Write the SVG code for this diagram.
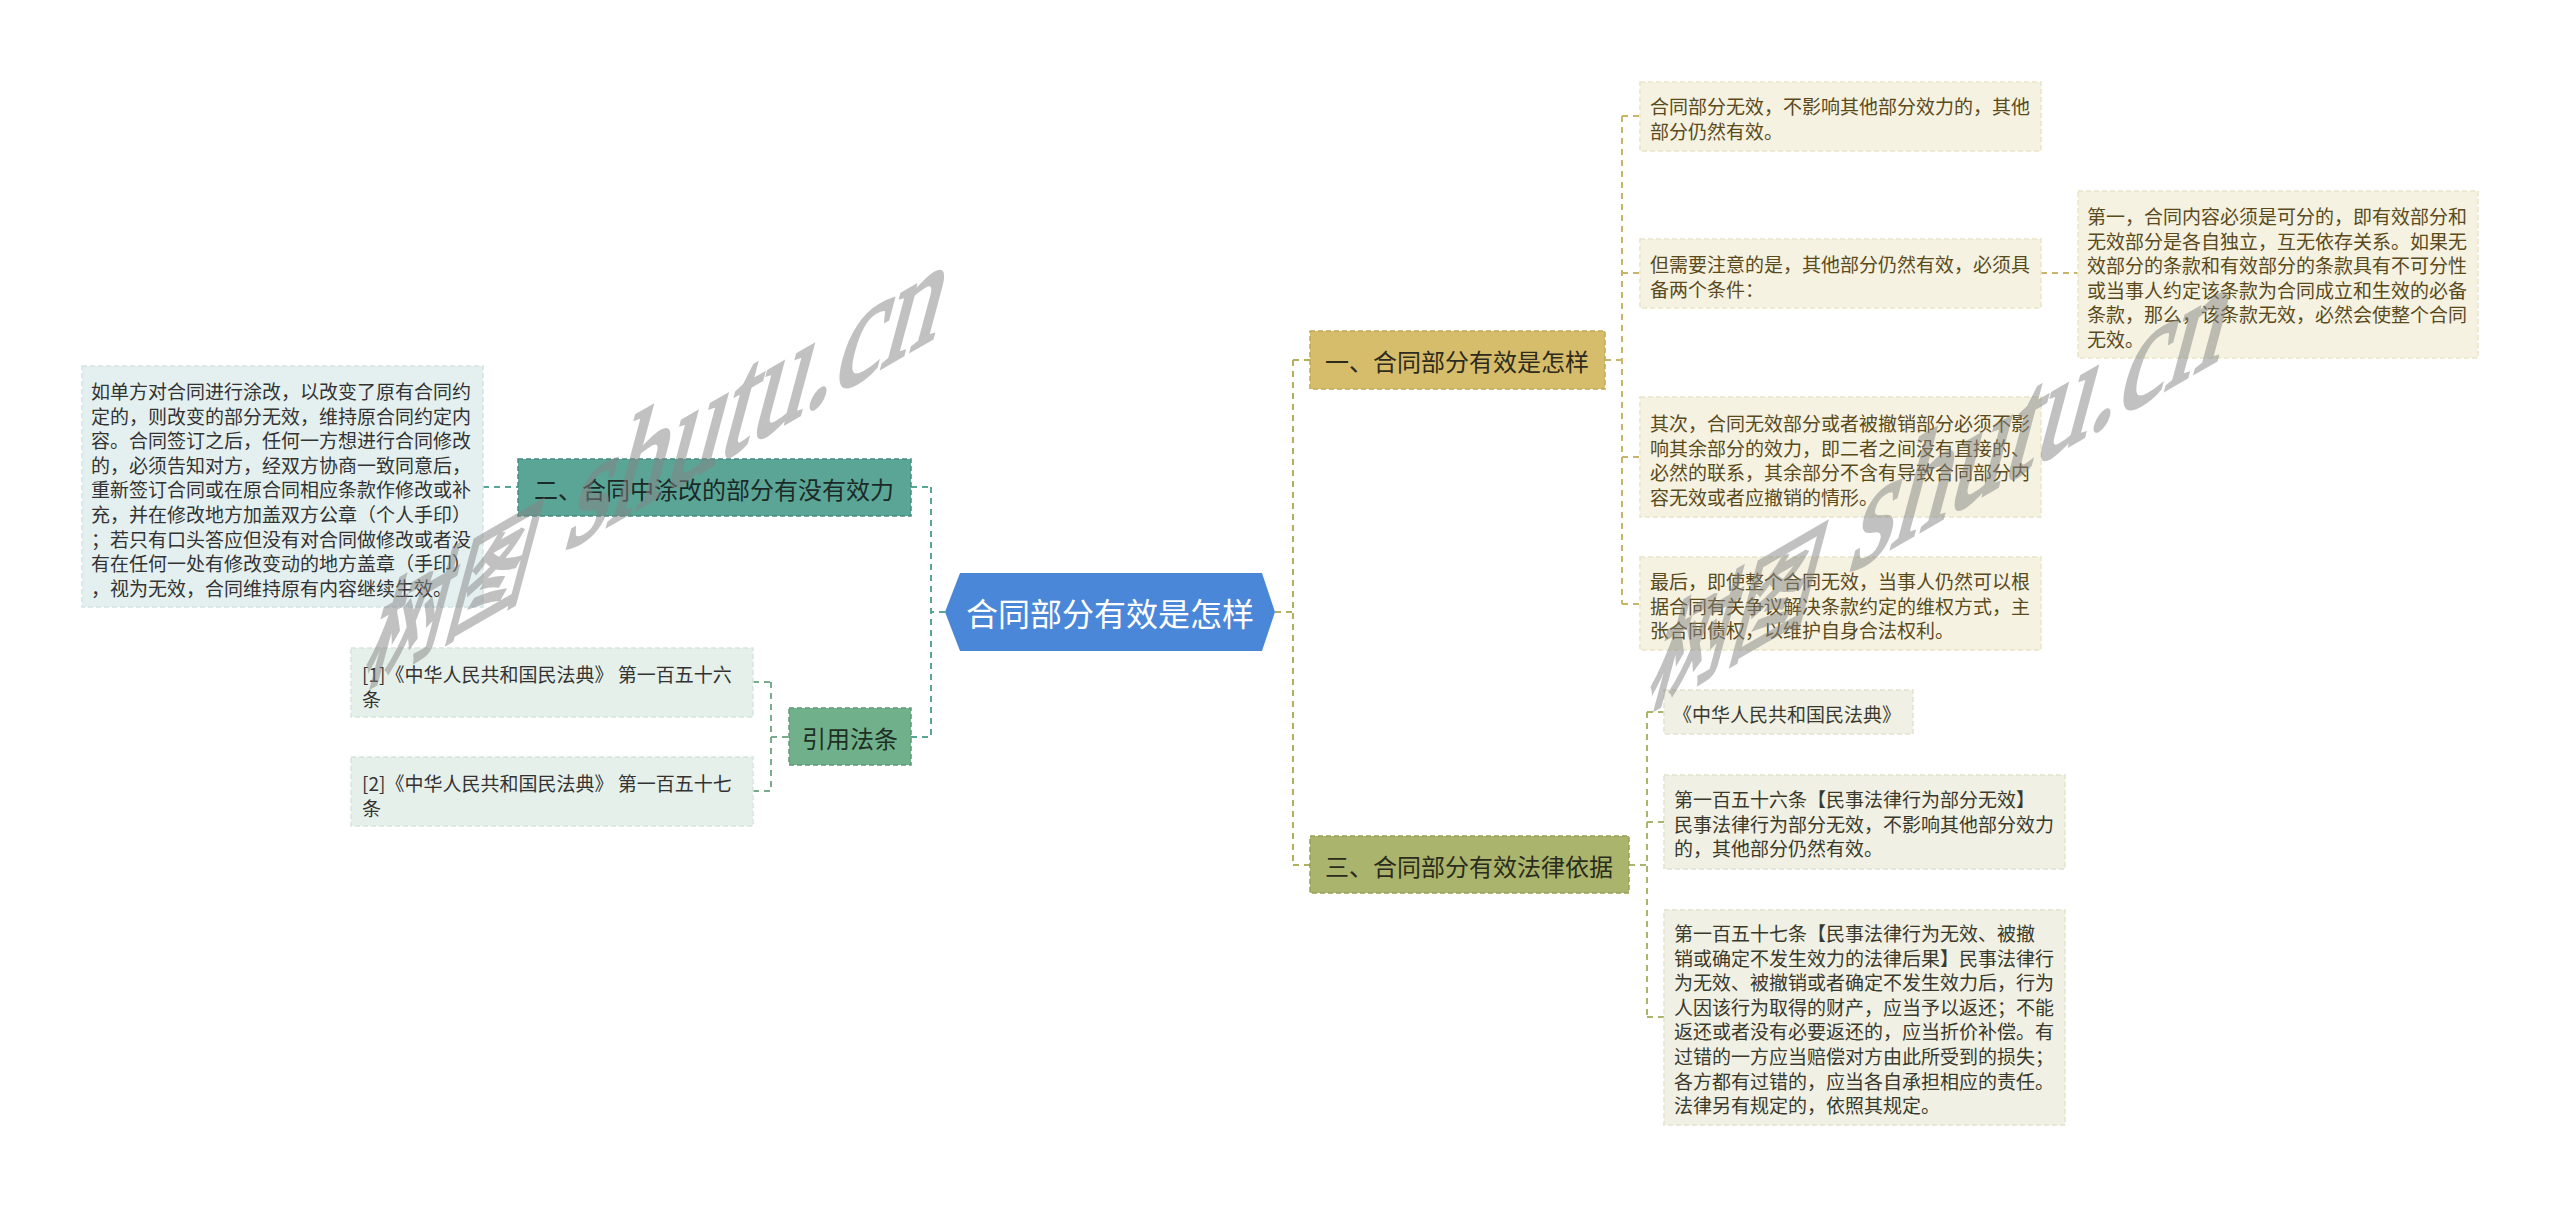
<svg xmlns="http://www.w3.org/2000/svg" width="2560" height="1206" viewBox="0 0 2560 1206">
<style>
text{font-family:"Noto Sans CJK SC","Liberation Sans",sans-serif;}
.t19{font-size:19px;}
.t24{font-size:24px;}
.mid{text-anchor:middle;dominant-baseline:central;}
.ln{dominant-baseline:central;}
.c{fill:none;stroke-width:2;stroke-dasharray:6 5;}
.teal{stroke:#5ba597;}
.cite{stroke:#7aab8c;}
.gold{stroke:#c9b46c;}
.olive{stroke:#abb46c;}
.root{stroke:#b3ae62;}
.bx{stroke-width:1.5;stroke-dasharray:5 3;}
.wm{font-family:"Liberation Serif","Noto Sans CJK SC",serif;font-size:128px;fill:#858585;stroke:#858585;stroke-width:3;opacity:0.5;}
.wmc{font-family:"Noto Sans CJK SC",serif;font-size:95px;}
</style>
<rect width="2560" height="1206" fill="#ffffff"/>
<g id="connectors">
  <path class="c teal" d="M945,612 H931 M931,487 V738 M911,487 H931 M911,737 H931 M483,487 H518"/>
  <path class="c cite" d="M771,682 V791 M753,682 H771 M753,791 H771 M771,737 H789"/>
  <path class="c root" d="M1275,612 H1293 M1293,360 V865 M1293,360 H1310 M1293,865 H1310"/>
  <path class="c gold" d="M1605,360 H1622 M1622,116 V604 M1622,116 H1640 M1622,273 H1640 M1622,457 H1640 M1622,604 H1640 M2041,273 H2078"/>
  <path class="c olive" d="M1629,865 H1647 M1647,712 V1017 M1647,712 H1664 M1647,822 H1664 M1647,1017 H1664"/>
</g>
<g id="root">
  <polygon points="945,612 960,573 1262,573 1275,612 1262,651 960,651" fill="#4b87d8"/>
  <text class="mid" x="1110" y="612" font-size="32" fill="#ffffff">合同部分有效是怎样</text>
</g>
<g id="n2">
  <rect class="bx" x="518" y="459" width="393" height="57" fill="#5ba597" stroke="#478c7f"/>
  <text class="t24 mid" x="714" y="488" fill="#1b2a27">二、合同中涂改的部分有没有效力</text>
</g>
<g id="n2a">
  <rect class="bx" x="82" y="366" width="401" height="241" fill="#e4f0ef" stroke="#d2e4e2"/>
  <text class="t19 ln" fill="#333333">
    <tspan x="91" y="390">如单方对合同进行涂改，以改变了原有合同约</tspan>
    <tspan x="91" y="414.6">定的，则改变的部分无效，维持原合同约定内</tspan>
    <tspan x="91" y="439.2">容。合同签订之后，任何一方想进行合同修改</tspan>
    <tspan x="91" y="463.8">的，必须告知对方，经双方协商一致同意后，</tspan>
    <tspan x="91" y="488.4">重新签订合同或在原合同相应条款作修改或补</tspan>
    <tspan x="91" y="513">充，并在修改地方加盖双方公章（个人手印）</tspan>
    <tspan x="91" y="537.6">；若只有口头答应但没有对合同做修改或者没</tspan>
    <tspan x="91" y="562.2">有在任何一处有修改变动的地方盖章（手印）</tspan>
    <tspan x="91" y="586.8">，视为无效，合同维持原有内容继续生效。</tspan>
  </text>
</g>
<g id="cite">
  <rect class="bx" x="789" y="708" width="122" height="57" fill="#70b08a" stroke="#5c9a76"/>
  <text class="t24 mid" x="850" y="737" fill="#1e2e24">引用法条</text>
</g>
<g id="cite1">
  <rect class="bx" x="351" y="648" width="402" height="69" fill="#e6f0ea" stroke="#d5e5db"/>
  <text class="t19 ln" fill="#333333"><tspan x="362" y="673">[1]《中华人民共和国民法典》 第一百五十六</tspan><tspan x="362" y="698">条</tspan></text>
</g>
<g id="cite2">
  <rect class="bx" x="351" y="757" width="402" height="69" fill="#e6f0ea" stroke="#d5e5db"/>
  <text class="t19 ln" fill="#333333"><tspan x="362" y="782">[2]《中华人民共和国民法典》 第一百五十七</tspan><tspan x="362" y="807">条</tspan></text>
</g>
<g id="n1">
  <rect class="bx" x="1310" y="331" width="295" height="58" fill="#d6bd6c" stroke="#c2a855"/>
  <text class="t24 mid" x="1457" y="360" fill="#2e2a1c">一、合同部分有效是怎样</text>
</g>
<g id="n1a">
  <rect class="bx" x="1640" y="82" width="401" height="69" fill="#f5f2e1" stroke="#e9e3c9"/>
  <text class="t19 ln" fill="#5a4a1c"><tspan x="1650" y="105">合同部分无效，不影响其他部分效力的，其他</tspan><tspan x="1650" y="130">部分仍然有效。</tspan></text>
</g>
<g id="n1b">
  <rect class="bx" x="1640" y="239" width="401" height="69" fill="#f5f2e1" stroke="#e9e3c9"/>
  <text class="t19 ln" fill="#5a4a1c"><tspan x="1650" y="263">但需要注意的是，其他部分仍然有效，必须具</tspan><tspan x="1650" y="288">备两个条件：</tspan></text>
</g>
<g id="n1b1">
  <rect class="bx" x="2078" y="191" width="400" height="167" fill="#f5f2e1" stroke="#e9e3c9"/>
  <text class="t19 ln" fill="#5a4a1c">
    <tspan x="2087" y="215">第一，合同内容必须是可分的，即有效部分和</tspan>
    <tspan x="2087" y="239.6">无效部分是各自独立，互无依存关系。如果无</tspan>
    <tspan x="2087" y="264.2">效部分的条款和有效部分的条款具有不可分性</tspan>
    <tspan x="2087" y="288.8">或当事人约定该条款为合同成立和生效的必备</tspan>
    <tspan x="2087" y="313.4">条款，那么，该条款无效，必然会使整个合同</tspan>
    <tspan x="2087" y="338">无效。</tspan>
  </text>
</g>
<g id="n1c">
  <rect class="bx" x="1640" y="397" width="401" height="120" fill="#f5f2e1" stroke="#e9e3c9"/>
  <text class="t19 ln" fill="#5a4a1c">
    <tspan x="1650" y="422">其次，合同无效部分或者被撤销部分必须不影</tspan>
    <tspan x="1650" y="446.6">响其余部分的效力，即二者之间没有直接的、</tspan>
    <tspan x="1650" y="471.2">必然的联系，其余部分不含有导致合同部分内</tspan>
    <tspan x="1650" y="495.8">容无效或者应撤销的情形。</tspan>
  </text>
</g>
<g id="n1d">
  <rect class="bx" x="1640" y="557" width="401" height="93" fill="#f5f2e1" stroke="#e9e3c9"/>
  <text class="t19 ln" fill="#5a4a1c">
    <tspan x="1650" y="580">最后，即使整个合同无效，当事人仍然可以根</tspan>
    <tspan x="1650" y="604.6">据合同有关争议解决条款约定的维权方式，主</tspan>
    <tspan x="1650" y="629.2">张合同债权，以维护自身合法权利。</tspan>
  </text>
</g>
<g id="n3">
  <rect class="bx" x="1310" y="836" width="319" height="57" fill="#abb46c" stroke="#97a058"/>
  <text class="t24 mid" x="1469" y="865" fill="#2a2c1c">三、合同部分有效法律依据</text>
</g>
<g id="n3a">
  <rect class="bx" x="1664" y="690" width="249" height="44" fill="#f0f0e4" stroke="#e2e2d0"/>
  <text class="t19 ln" x="1673" y="713" fill="#3a3a2c">《中华人民共和国民法典》</text>
</g>
<g id="n3b">
  <rect class="bx" x="1664" y="775" width="401" height="94" fill="#f0f0e4" stroke="#e2e2d0"/>
  <text class="t19 ln" fill="#3a3a2c">
    <tspan x="1674" y="798">第一百五十六条【民事法律行为部分无效】</tspan>
    <tspan x="1674" y="822.6">民事法律行为部分无效，不影响其他部分效力</tspan>
    <tspan x="1674" y="847.2">的，其他部分仍然有效。</tspan>
  </text>
</g>
<g id="n3c">
  <rect class="bx" x="1664" y="910" width="401" height="215" fill="#f0f0e4" stroke="#e2e2d0"/>
  <text class="t19 ln" fill="#3a3a2c">
    <tspan x="1674" y="932">第一百五十七条【民事法律行为无效、被撤</tspan>
    <tspan x="1674" y="956.6">销或确定不发生效力的法律后果】民事法律行</tspan>
    <tspan x="1674" y="981.2">为无效、被撤销或者确定不发生效力后，行为</tspan>
    <tspan x="1674" y="1005.8">人因该行为取得的财产，应当予以返还；不能</tspan>
    <tspan x="1674" y="1030.4">返还或者没有必要返还的，应当折价补偿。有</tspan>
    <tspan x="1674" y="1055">过错的一方应当赔偿对方由此所受到的损失；</tspan>
    <tspan x="1674" y="1079.6">各方都有过错的，应当各自承担相应的责任。</tspan>
    <tspan x="1674" y="1104.2">法律另有规定的，依照其规定。</tspan>
  </text>
</g>
<g id="watermark">
  <text class="wm" transform="matrix(0.866,-0.5,-0.337,1.256,360,686)"><tspan class="wmc">树图</tspan><tspan dx="5" dy="-16"> shutu.cn</tspan></text>
  <text class="wm" transform="matrix(0.866,-0.5,-0.337,1.256,1644,708)"><tspan class="wmc">树图</tspan><tspan dx="5" dy="-16"> shutu.cn</tspan></text>
</g>
</svg>
